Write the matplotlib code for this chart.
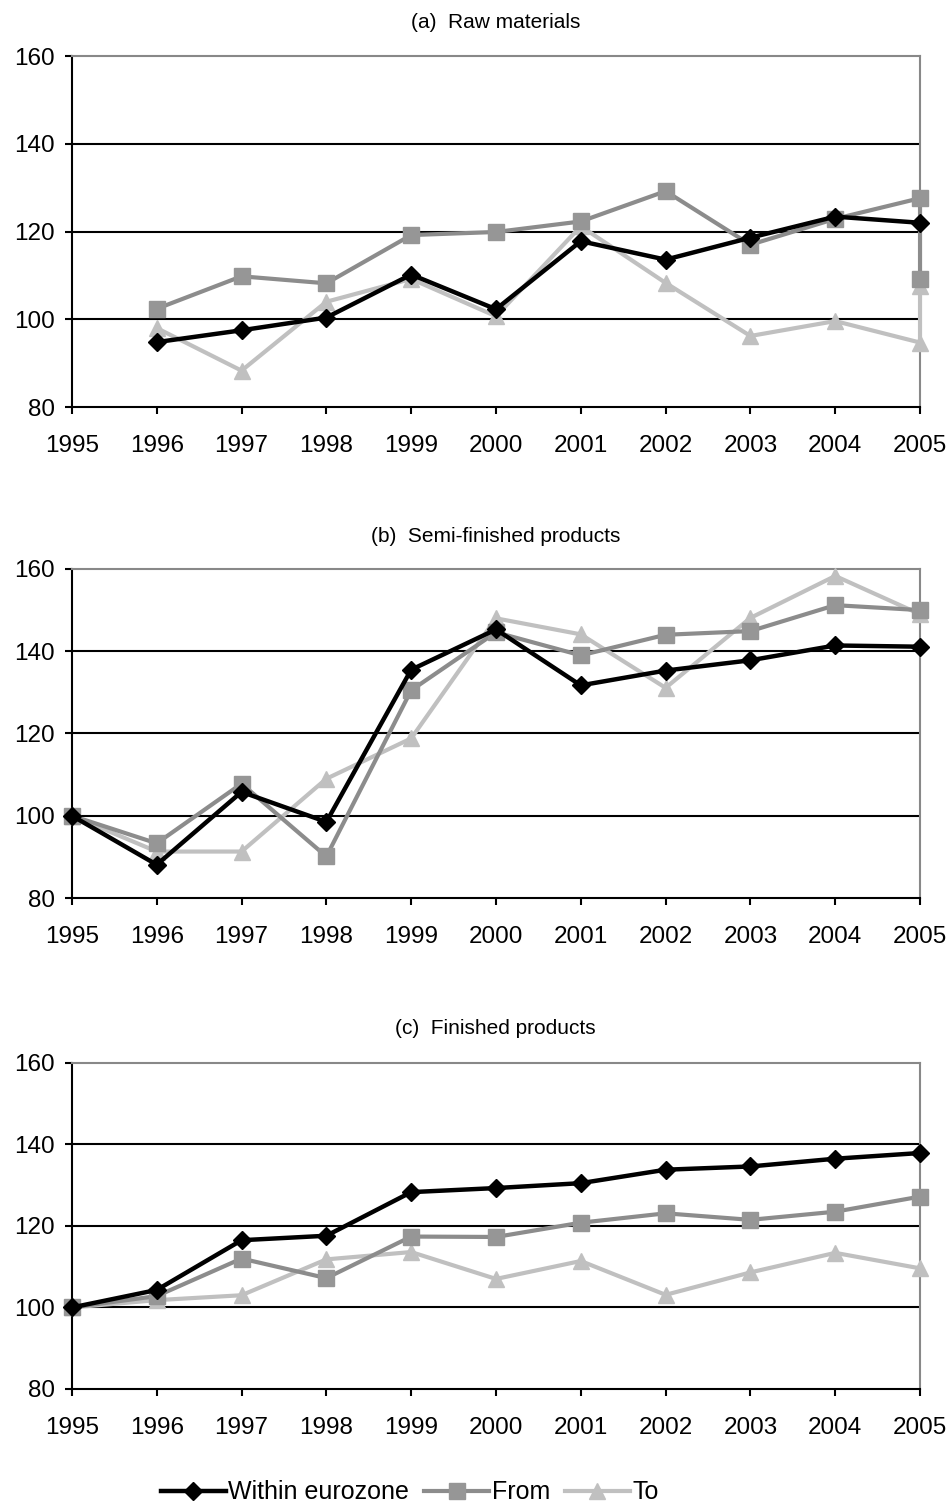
import numpy as np
import matplotlib.pyplot as plt

plt.rcParams['font.family'] = ['Liberation Sans', 'DejaVu Sans']

years = [1995, 1996, 1997, 1998, 1999, 2000, 2001, 2002, 2003, 2004, 2005]

# (a) raw materials: series start in 1996, From/To have an extra value drawn at 2005
years_a = [1996, 1997, 1998, 1999, 2000, 2001, 2002, 2003, 2004, 2005]
years_a2 = years_a + [2005]
within_a = [94.8, 97.5, 100.4, 110.2, 102.3, 117.8, 113.6, 118.6, 123.4, 122.0]
from_a = [102.4, 109.8, 108.2, 119.2, 119.9, 122.3, 129.2, 117.0, 122.9, 127.6, 109.1]
to_a = [98.0, 88.3, 104.0, 109.2, 100.7, 121.2, 108.3, 96.2, 99.6, 94.7, 107.6]

# (b) semi-finished products
within_b = [100, 88.1, 105.8, 98.5, 135.5, 145.3, 131.7, 135.3, 137.8, 141.4, 141.1]
from_b = [100, 93.3, 107.8, 90.1, 130.5, 144.6, 139.0, 144.0, 144.9, 151.2, 150.0]
to_b = [100, 91.3, 91.3, 109.0, 118.8, 148.0, 144.1, 131.1, 148.1, 158.3, 149.0]

# (c) finished products
within_c = [100, 104.3, 116.5, 117.6, 128.3, 129.3, 130.5, 133.8, 134.6, 136.5, 137.9]
from_c = [100, 102.8, 112.0, 107.2, 117.4, 117.3, 120.8, 123.1, 121.5, 123.5, 127.2]
to_c = [100, 101.8, 103.0, 111.8, 113.6, 107.0, 111.4, 103.1, 108.6, 113.4, 109.6]

titles = ['(a)  Raw materials', '(b)  Semi-finished products', '(c)  Finished products']

fig = plt.figure(figsize=(9.53, 15.06), dpi=100)
boxes = [(0.0755, 0.7297, 0.8899, 0.2331),
         (0.0755, 0.4037, 0.8899, 0.2185),
         (0.0755, 0.0777, 0.8899, 0.2165)]
title_y = [1 - 22 / 1506, 1 - 536 / 1506, 1 - 1029 / 1506]

panels = [
    (years_a, within_a, years_a2, from_a, years_a2, to_a),
    (years, within_b, years, from_b, years, to_b),
    (years, within_c, years, from_c, years, to_c),
]

black = '#000000'
mid = '#8c8c8c'
light = '#c0c0c0'

for i, (box, data) in enumerate(zip(boxes, panels)):
    ax = fig.add_axes(box)
    xw, yw, xf, yf, xt, yt = data
    ax.plot(xw, yw, color=black, lw=3.2, marker='D', ms=9, mfc=black, mec=black,
            label='Within eurozone', clip_on=False, zorder=5)
    ax.plot(xf, yf, color=mid, lw=3.0, marker='s', ms=11, mfc='#969696', mec='#969696',
            label='From', clip_on=False, zorder=4)
    ax.plot(xt, yt, color=light, lw=3.0, marker='^', ms=12, mfc=light, mec=light,
            label='To', clip_on=False, zorder=3)
    ax.set_xlim(1995, 2005)
    ax.set_ylim(80, 160)
    ax.set_xticks(years)
    ax.set_yticks([80, 100, 120, 140, 160])
    for g in [100, 120, 140]:
        ax.axhline(g, color='black', lw=1.5, zorder=1)
    ax.spines['top'].set_color('#888888')
    ax.spines['right'].set_color('#888888')
    ax.spines['top'].set_linewidth(1.5)
    ax.spines['right'].set_linewidth(1.5)
    ax.spines['left'].set_linewidth(1.5)
    ax.spines['bottom'].set_linewidth(1.5)
    ax.tick_params(direction='out', length=5, width=1.5, labelsize=17.5)
    ax.tick_params(axis='x', pad=15)
    ax.tick_params(axis='y', pad=7.5)
    fig.text(0.52, title_y[i], titles[i], ha='center', va='center', fontsize=15)

handles, labels = ax.get_legend_handles_labels()
fig.legend(handles, labels, loc='center', bbox_to_anchor=(0.43, 0.009), ncol=3,
           frameon=False, fontsize=18, handlelength=2.6, handletextpad=0.1,
           columnspacing=0.6)

fig.savefig('out.png', dpi=100)
